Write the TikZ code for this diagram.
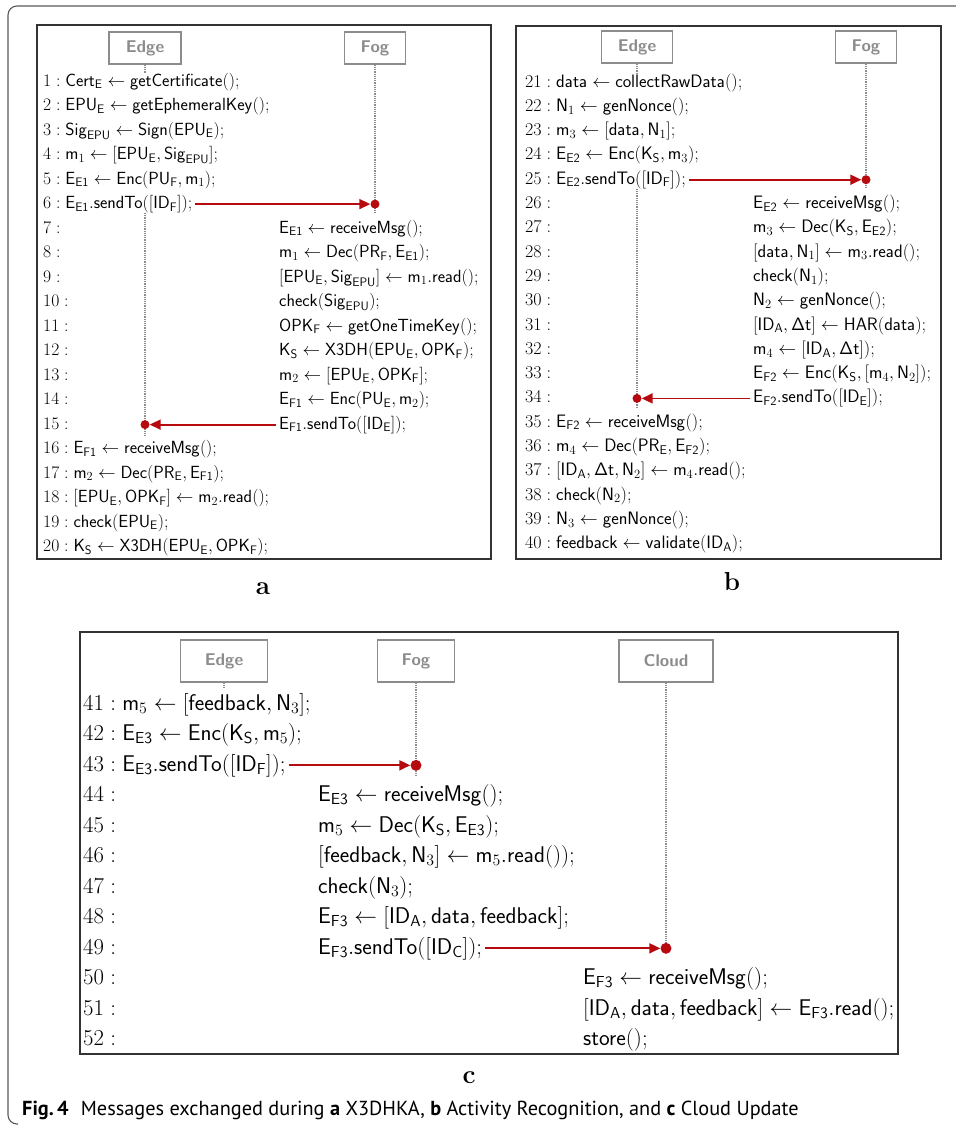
\RequirePackage{fix-cm}
\documentclass[tikz,border=0pt]{standalone}
\usepackage{amsmath}
\usepackage[no-math]{fontspec}
\newfontfamily\capfont{PT Sans}
\usepackage{tikz}
\usetikzlibrary{positioning,calc,arrows.meta}
\definecolor{msgred}{HTML}{B70A0F}
\definecolor{lifegray}{HTML}{8C8C8C}
\tikzset{
	row/.style={anchor=base west,inner sep=0pt,font=\fontsize{17.6}{20}\selectfont},
	rowb/.style={row,font=\fontsize{18}{20}\selectfont},
	rowc/.style={row,font=\fontsize{22.7}{26}\selectfont},
	actor/.style={draw=lifegray,line width=1.4pt,text=lifegray,inner sep=0pt,font=\sffamily\bfseries\fontsize{17}{17}\selectfont},
	life/.style={draw=lifegray,line width=1.2pt,densely dotted},
	dot/.style={circle,fill=msgred,inner sep=0pt,minimum size=9pt},
	msg/.style={draw=msgred,line width=1.8pt,-{Triangle[length=11pt,width=10pt]},shorten <=3pt},
	panel/.style={draw=black!80,line width=1.1pt},
	lettre/.style={anchor=base,inner sep=0pt,font=\bfseries\fontsize{26}{26}\selectfont}
}
\newcommand{\idf}[1]{\mathsf{#1}}
\newcommand{\ids}[2]{\mathsf{#1}_{\mathsf{#2}}}

\begin{document}
\begin{tikzpicture}[x=1pt,y=-1pt]
	\useasboundingbox (0,0) rectangle (956,1125);
	
	%Cadre exterieur
	\draw[black!65,line width=1.1pt,rounded corners=9pt] (956,6) -- (8,6) -- (8,1124) -- (18,1124);
	
	%Panneaux
	\draw[panel] (37,25) rectangle (491,559);
	\draw[panel] (516,26) rectangle (941,559);
	\draw[panel] (80,632) rectangle (898,1054);
	
	%Acteurs
	\node[actor,minimum width=72pt,minimum height=32pt] (edgeA) at (145,48) {Edge};
	\node[actor,minimum width=61pt,minimum height=32pt] (fogA) at (375,48) {Fog};
	\node[actor,minimum width=71pt,minimum height=32pt] (edgeB) at (637,47) {Edge};
	\node[actor,minimum width=61pt,minimum height=32pt] (fogB) at (866,47) {Fog};
	\begin{scope}[every node/.append style={font=\sffamily\bfseries\fontsize{20.5}{20.5}\selectfont,minimum height=42pt}]
		\node[actor,minimum width=87pt] (edgeC) at (224,661) {Edge};
		\node[actor,minimum width=77pt] (fogC) at (416,661) {Fog};
		\node[actor,minimum width=94pt] (cloudC) at (666,661) {Cloud};
	\end{scope}
	
	%a : X3DHKA
	\foreach \txt [count=\k] in {
		{\ids{Cert}{E} \leftarrow \idf{getCertificate}();},
		{\ids{EPU}{E} \leftarrow \idf{getEphemeralKey}();},
		{\ids{Sig}{EPU} \leftarrow \idf{Sign}(\ids{EPU}{E});},
		{\idf{m}_1 \leftarrow [\ids{EPU}{E}, \ids{Sig}{EPU}];},
		{\ids{E}{E1} \leftarrow \idf{Enc}(\ids{PU}{F}, \idf{m}_1);},
		{\ids{E}{E1}.\idf{sendTo}([\ids{ID}{F}]);}
	}
	\node[row] (a\k) at (43,{86+(\k-1)*24.5}) {$\k : \txt$};
	
	\foreach \txt [count=\k from 7] in {
		{\ids{E}{E1} \leftarrow \idf{receiveMsg}();},
		{\idf{m}_1 \leftarrow \idf{Dec}(\ids{PR}{F}, \ids{E}{E1});},
		{[\ids{EPU}{E}, \ids{Sig}{EPU}] \leftarrow \idf{m}_1.\idf{read}();},
		{\idf{check}(\ids{Sig}{EPU});},
		{\ids{OPK}{F} \leftarrow \idf{getOneTimeKey}();},
		{\ids{K}{S} \leftarrow \idf{X3DH}(\ids{EPU}{E}, \ids{OPK}{F});},
		{\idf{m}_2 \leftarrow [\ids{EPU}{E}, \ids{OPK}{F}];},
		{\ids{E}{F1} \leftarrow \idf{Enc}(\ids{PU}{E}, \idf{m}_2);},
		{\ids{E}{F1}.\idf{sendTo}([\ids{ID}{E}]);}
	}{
		\node[row] (na\k) at (43,{86+(\k-1)*24.5}) {$\k :$};
		\node[row] (a\k) at (279,{86+(\k-1)*24.5}) {$\txt$};
	}
	
	\foreach \txt [count=\k from 16] in {
		{\ids{E}{F1} \leftarrow \idf{receiveMsg}();},
		{\idf{m}_2 \leftarrow \idf{Dec}(\ids{PR}{E}, \ids{E}{F1});},
		{[\ids{EPU}{E}, \ids{OPK}{F}] \leftarrow \idf{m}_2.\idf{read}();},
		{\idf{check}(\ids{EPU}{E});},
		{\ids{K}{S} \leftarrow \idf{X3DH}(\ids{EPU}{E}, \ids{OPK}{F});}
	}
	\node[row] (a\k) at (43,{86+(\k-1)*24.5}) {$\k : \txt$};
	
	%b : Activity Recognition
	\foreach \txt [count=\k from 21] in {
		{\idf{data} \leftarrow \idf{collectRawData}();},
		{\idf{N}_1 \leftarrow \idf{genNonce}();},
		{\idf{m}_3 \leftarrow [\idf{data}, \idf{N}_1];},
		{\ids{E}{E2} \leftarrow \idf{Enc}(\ids{K}{S}, \idf{m}_3);},
		{\ids{E}{E2}.\idf{sendTo}([\ids{ID}{F}]);}
	}
	\node[rowb] (b\k) at (525,{87+(\k-21)*24.3}) {$\k : \txt$};
	
	\foreach \txt [count=\k from 26] in {
		{\ids{E}{E2} \leftarrow \idf{receiveMsg}();},
		{\idf{m}_3 \leftarrow \idf{Dec}(\ids{K}{S}, \ids{E}{E2});},
		{[\idf{data}, \idf{N}_1] \leftarrow \idf{m}_3.\idf{read}();},
		{\idf{check}(\idf{N}_1);},
		{\idf{N}_2 \leftarrow \idf{genNonce}();},
		{[\ids{ID}{A}, \idf{\Delta t}] \leftarrow \idf{HAR}(\idf{data});},
		{\idf{m}_4 \leftarrow [\ids{ID}{A}, \idf{\Delta t}]);},
		{\ids{E}{F2} \leftarrow \idf{Enc}(\ids{K}{S}, [\idf{m}_4, \idf{N}_2]);},
		{\ids{E}{F2}.\idf{sendTo}([\ids{ID}{E}]);}
	}{
		\node[rowb] (nb\k) at (525,{87+(\k-21)*24.3}) {$\k :$};
		\node[rowb] (b\k) at (753,{87+(\k-21)*24.3}) {$\txt$};
	}
	
	\foreach \txt [count=\k from 35] in {
		{\ids{E}{F2} \leftarrow \idf{receiveMsg}();},
		{\idf{m}_4 \leftarrow \idf{Dec}(\ids{PR}{E}, \ids{E}{F2});},
		{[\ids{ID}{A}, \idf{\Delta t}, \idf{N}_2] \leftarrow \idf{m}_4.\idf{read}();},
		{\idf{check}(\idf{N}_2);},
		{\idf{N}_3 \leftarrow \idf{genNonce}();},
		{\idf{feedback} \leftarrow \idf{validate}(\ids{ID}{A});}
	}
	\node[rowb] (b\k) at (525,{87+(\k-21)*24.3}) {$\k : \txt$};
	
	%c : Cloud Update
	\foreach \txt [count=\k from 41] in {
		{\idf{m}_5 \leftarrow [\idf{feedback}, \idf{N}_3];},
		{\ids{E}{E3} \leftarrow \idf{Enc}(\ids{K}{S}, \idf{m}_5);},
		{\ids{E}{E3}.\idf{sendTo}([\ids{ID}{F}]);}
	}
	\node[rowc] (c\k) at (83,{710+(\k-41)*30.5}) {$\k : \txt$};
	
	\foreach \txt [count=\k from 44] in {
		{\ids{E}{E3} \leftarrow \idf{receiveMsg}();},
		{\idf{m}_5 \leftarrow \idf{Dec}(\ids{K}{S}, \ids{E}{E3});},
		{[\idf{feedback}, \idf{N}_3] \leftarrow \idf{m}_5.\idf{read}());},
		{\idf{check}(\idf{N}_3);},
		{\ids{E}{F3} \leftarrow [\ids{ID}{A}, \idf{data}, \idf{feedback}];},
		{\ids{E}{F3}.\idf{sendTo}([\ids{ID}{C}]);}
	}{
		\node[rowc] (nc\k) at (83,{710+(\k-41)*30.5}) {$\k :$};
		\node[rowc] (c\k) at (318,{710+(\k-41)*30.5}) {$\txt$};
	}
	
	\foreach \txt [count=\k from 50] in {
		{\ids{E}{F3} \leftarrow \idf{receiveMsg}();},
		{[\ids{ID}{A}, \idf{data}, \idf{feedback}] \leftarrow \ids{E}{F3}.\idf{read}();},
		{\idf{store}();}
	}{
		\node[rowc] (nc\k) at (83,{710+(\k-41)*30.5}) {$\k :$};
		\node[rowc] (c\k) at (583,{710+(\k-41)*30.5}) {$\txt$};
	}
	
	%Points de reception
	\coordinate (pA6) at (a6.east -| fogA);
	\coordinate (pA15) at (a15.west -| edgeA);
	\coordinate (pB25) at (b25.east -| fogB);
	\coordinate (pB34) at (b34.west -| edgeB);
	\coordinate (pC43) at (c43.east -| fogC);
	\coordinate (pC49) at (c49.east -| cloudC);
	
	%Lignes de vie
	\draw[life] (edgeA) -- (edgeA |- a1.north);
	\draw[life] (edgeA |- a6.south) -- ($(pA15)+(0,12)$);
	\draw[life] (fogA) -- ($(pA6)+(0,9)$);
	\draw[life] (edgeB) -- (edgeB |- b21.north);
	\draw[life] (edgeB |- b25.south) -- ($(pB34)+(0,10)$);
	\draw[life] (fogB) -- ($(pB25)+(0,9)$);
	\draw[life,shorten >=4pt] (edgeC) -- (edgeC |- c41.north);
	\draw[life] (fogC) -- ($(pC43)+(0,10)$);
	\draw[life] (cloudC) -- (pC49);
	
	\node[dot] (dA6) at (pA6) {};
	\node[dot] (dA15) at (pA15) {};
	\node[dot] (dB25) at (pB25) {};
	\node[dot] (dB34) at (pB34) {};
	\node[dot,minimum size=11pt] (dC43) at (pC43) {};
	\node[dot,minimum size=11pt] (dC49) at (pC49) {};
	
	%Messages
	\draw[msg] (a6) -- (dA6);
	\draw[msg] (a15) -- (dA15);
	\draw[msg] (b25) -- (dB25);
	\draw[msg] (b34) -- (dB34);
	\draw[msg] (c43) -- (dC43);
	\draw[msg] (c49) -- (dC49);
	
	%Lettres et legende
	\node[lettre] (labA) at (263,594) {a};
	\node[lettre] (labB) at (732,590) {b};
	\node[lettre] (labC) at (469,1083) {c};
	\node[anchor=base west,inner sep=0pt,font=\capfont\fontsize{20.3}{20.3}\selectfont] (legende) at (22,1115) {\textbf{Fig.\,4}\hspace{0.6em}Messages exchanged during \textbf{a} X3DHKA, \textbf{b} Activity Recognition, and \textbf{c} Cloud Update};
	
\end{tikzpicture}
\end{document}
